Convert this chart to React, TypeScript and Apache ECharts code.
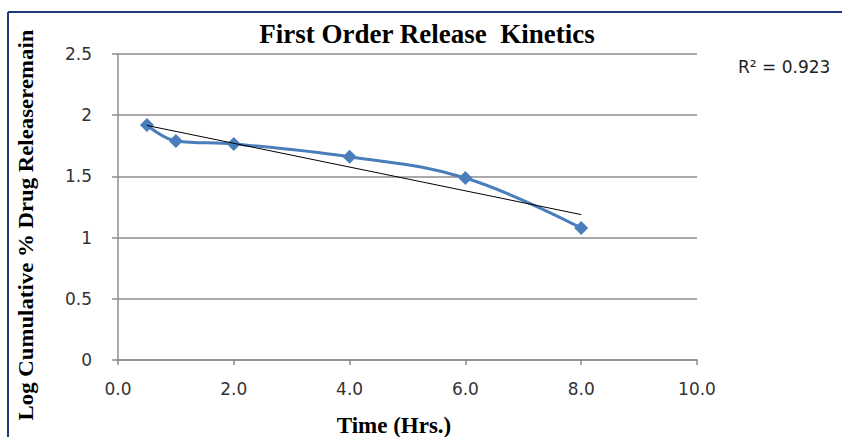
import React, { useEffect, useRef } from "react";
import * as echarts from "echarts";

const timeHrs = [0.5, 1, 2, 4, 6, 8];
const logRemain = [1.92, 1.79, 1.765, 1.66, 1.487, 1.078];
const xTicks = [0, 2, 4, 6, 8, 10];
const rSquaredLabel = "R² = 0.923";

function linearFit(xs: number[], ys: number[]) {
  const n = xs.length;
  const mx = xs.reduce((a, b) => a + b, 0) / n;
  const my = ys.reduce((a, b) => a + b, 0) / n;
  let sxy = 0;
  let sxx = 0;
  for (let i = 0; i < n; i++) {
    sxy += (xs[i] - mx) * (ys[i] - my);
    sxx += (xs[i] - mx) * (xs[i] - mx);
  }
  const slope = sxy / sxx;
  return { slope, intercept: my - slope * mx };
}

export default function App() {
  const ref = useRef<HTMLDivElement>(null);
  useEffect(() => {
    if (!ref.current) return;
    const chart = echarts.init(ref.current, null, { renderer: "svg" });
    const fit = linearFit(timeHrs, logRemain);
    const x0 = timeHrs[0];
    const x1 = timeHrs[timeHrs.length - 1];
    const trend = [
      [x0, fit.intercept + fit.slope * x0],
      [x1, fit.intercept + fit.slope * x1],
    ];
    chart.setOption({
      animation: false,
      backgroundColor: "#ffffff",
      title: {
        text: "First Order Release  Kinetics",
        left: 422,
        textAlign: "center",
        top: 15,
        textStyle: {
          fontFamily: "Liberation Serif",
          fontWeight: "bold",
          fontSize: 27,
          color: "#000000",
        },
      },
      graphic: [
        {
          type: "line",
          shape: { x1: 8, y1: 12, x2: 842, y2: 12 },
          style: { stroke: "#1f3a7a", lineWidth: 2 },
        },
        {
          type: "line",
          shape: { x1: 8, y1: 12, x2: 8, y2: 437 },
          style: { stroke: "#1f3a7a", lineWidth: 2 },
        },
        {
          type: "text",
          x: 738,
          y: 58,
          style: {
            text: rSquaredLabel,
            fontFamily: "DejaVu Sans",
            fontSize: 17,
            fill: "#222222",
          },
        },
        {
          type: "text",
          x: 26,
          y: 225,
          rotation: Math.PI / 2,
          scaleX: 1.14,
          style: {
            text: "Log Cumulative % Drug Releaseremain",
            fontFamily: "Liberation Serif",
            fontWeight: "bold",
            fontSize: 20,
            fill: "#000000",
            align: "center",
            verticalAlign: "middle",
          },
        },
        {
          type: "text",
          x: 394,
          y: 425,
          style: {
            text: "Time (Hrs.)",
            fontFamily: "Liberation Serif",
            fontWeight: "bold",
            fontSize: 23,
            fill: "#000000",
            align: "center",
            verticalAlign: "middle",
          },
        },
      ],
      grid: { left: 118, right: 145, top: 54, bottom: 77 },
      xAxis: {
        type: "value",
        min: 0,
        max: 10,
        interval: 2,
        axisLine: { show: true, lineStyle: { color: "#8c8c8c", width: 1.5 } },
        axisTick: { show: true, length: 5, lineStyle: { color: "#8c8c8c", width: 1.5 } },
        axisLabel: {
          margin: 20,
          fontFamily: "DejaVu Sans",
          fontSize: 17,
          color: "#333333",
          formatter: (v: number) => (xTicks.includes(v) ? v.toFixed(1) : ""),
        },
        splitLine: { show: false },
      },
      yAxis: {
        type: "value",
        min: 0,
        max: 2.5,
        interval: 0.5,
        axisLine: { show: true, lineStyle: { color: "#8c8c8c", width: 1.5 } },
        axisTick: { show: true, length: 6, lineStyle: { color: "#8c8c8c", width: 1.5 } },
        axisLabel: {
          margin: 26,
          fontFamily: "DejaVu Sans",
          fontSize: 17,
          color: "#333333",
        },
        splitLine: { show: true, lineStyle: { color: "#8c8c8c", width: 1.5 } },
      },
      series: [
        {
          type: "line",
          data: timeHrs.map((t, i) => [t, logRemain[i]]),
          smooth: 0.4,
          symbol: "diamond",
          symbolSize: 14,
          lineStyle: { color: "#4a7ebb", width: 3 },
          itemStyle: { color: "#4a7ebb" },
          z: 3,
        },
        {
          type: "line",
          data: trend,
          symbol: "none",
          lineStyle: { color: "#000000", width: 1 },
          z: 4,
        },
      ],
    });
    return () => chart.dispose();
  }, []);
  return <div ref={ref} style={{ width: 842, height: 437, position: "absolute", left: 0, top: 0 }} />;
}
